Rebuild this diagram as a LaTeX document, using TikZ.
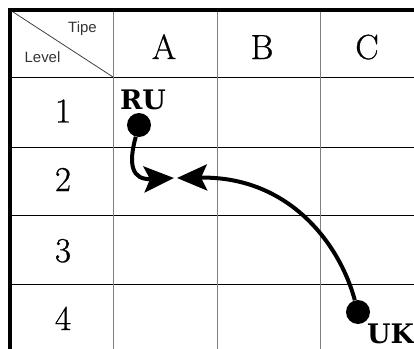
\documentclass[tikz,border=0pt]{standalone}
\usepackage{fontspec}
\newfontfamily\sansf{Liberation Sans}
\newfontfamily\labf{DejaVu Serif}
\newfontfamily\bigrm{Latin Modern Roman}[FakeBold=0.8]
\usetikzlibrary{arrows.meta}
\tikzset{
  hline/.style={draw=black, line width=0.9bp},
  vline/.style={draw=black!50, line width=1bp},
  border/.style={draw=black, line width=4.5bp, line join=miter},
  diag/.style={draw=black!75, line width=0.8bp},
  big/.style={font=\bigrm\fontsize{35}{40}\selectfont, inner sep=0pt, anchor=base},
  tag/.style={font=\labf\bfseries\fontsize{27}{30}\selectfont, inner sep=0pt, anchor=base},
  small/.style={font=\sansf\fontsize{15}{18}\selectfont, text=black!80, inner sep=0pt, anchor=base},
  dot/.style={circle, fill=black, minimum size=24bp, inner sep=0pt},
  conn/.style={line width=4bp, -{Stealth[length=30bp,width=26bp,inset=6bp]}}
}
\begin{document}
\begin{tikzpicture}[x=1bp,y=-1bp]
\useasboundingbox (0,0) rectangle (414,349);
% grid
\foreach \y in {77,147,215,284} \draw[hline] (10,\y) -- (414,\y);
\foreach \x in {113,217,320} \draw[vline] (\x,10) -- (\x,349);
\draw[diag] (10,10) -- (113,77);
\draw[border] (10,349) -- (10,10) -- (414,10);
% header texts
\node[small] (tipe) at (82.5,32) {Tipe};
\node[small] (level) at (42.5,62.5) {Level};
\node[big] (ca) at (164,59) {A};
\node[big] (cb) at (262,59) {B};
\node[big] (cc) at (367,59) {C};
\node[big] (r1) at (63,122.5) {1};
\node[big] (r2) at (63,191) {2};
\node[big] (r3) at (63,262) {3};
\node[big] (r4) at (63,330) {4};
% markers
\node[tag] (rul) at (143,109) {RU};
\node[tag] (ukl) at (390.5,343) {UK};
\node[dot] (ru) at (139,125) {};
\node[dot] (uk) at (358,312) {};
\coordinate (t1) at (174,178);
\coordinate (t2) at (177,178);
\draw[conn] (ru) .. controls (128,165) and (132,180) .. (t1);
\draw[conn] (uk) .. controls (340,245) and (290,176) .. (t2);
\end{tikzpicture}
\end{document}
